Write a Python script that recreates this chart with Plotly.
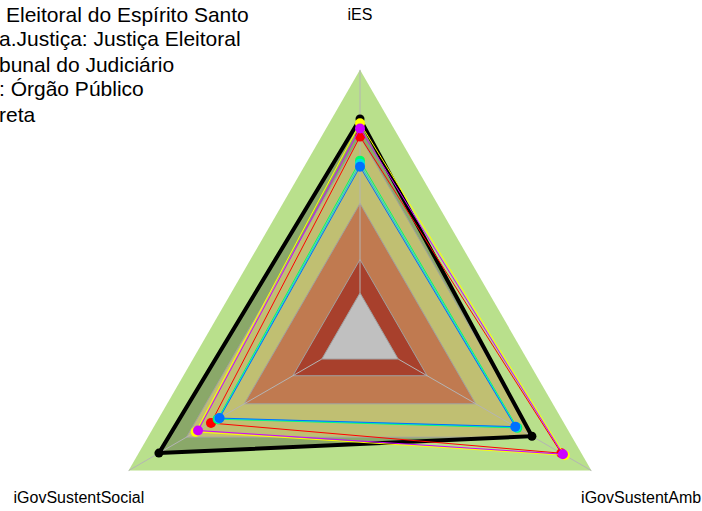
import plotly.graph_objects as go

categories = ["iES", "iGovSustentAmb", "iGovSustentSocial"]

# background bands (outer -> inner): level and colour
band_levels = [1.0, 0.75, 0.5, 0.29, 0.165]
band_colors = ["#B9E08C", "#C0BF72", "#C07A50", "#A8402C", "#C0C0C0"]

# series values in category order (iES, iGovSustentAmb, iGovSustentSocial)
serie_preta = [0.816, 0.743, 0.869]
serie_vermelha = [0.75, 0.87, 0.644]
serie_amarela = [0.80, 0.885, 0.71]
serie_verde = [0.66, 0.68, 0.615]
serie_ciano = [0.648, 0.675, 0.61]
serie_azul = [0.637, 0.671, 0.607]
serie_magenta = [0.78, 0.877, 0.70]

label_radius = [1.2, 1.215, 1.215]

legend_lines = [
    "Eleitoral do Espírito Santo",
    "a.Justiça: Justiça Eleitoral",
    "bunal do Judiciário",
    ": Órgão Público",
    "reta",
]
legend_x = [4, -3, -3, -3, -3]


def closed(vals):
    return list(vals) + [vals[0]]


theta_c = closed(categories)
R_MAX = 1.25

fig = go.Figure()

# outer band
fig.add_trace(go.Scatterpolar(r=[band_levels[0]] * 4, theta=theta_c, mode="lines", fill="toself",
                              fillcolor=band_colors[0], line=dict(width=0, color=band_colors[0]),
                              hoverinfo="skip", showlegend=False))
# black series fill (darkens what lies under it)
fig.add_trace(go.Scatterpolar(r=closed(serie_preta), theta=theta_c, mode="lines", fill="toself",
                              fillcolor="rgba(0,0,0,0.25)", line=dict(width=0),
                              hoverinfo="skip", showlegend=False))
# inner bands
for lev, col in zip(band_levels[1:], band_colors[1:]):
    fig.add_trace(go.Scatterpolar(r=[lev] * 4, theta=theta_c, mode="lines", fill="toself",
                                  fillcolor=col, line=dict(width=1, color="#A0A0A0"),
                                  hoverinfo="skip", showlegend=False))

# spokes
for c in categories:
    fig.add_trace(go.Scatterpolar(r=[band_levels[-1], 1.0], theta=[c, c], mode="lines",
                                  line=dict(width=1, color="#B4B4B4"),
                                  hoverinfo="skip", showlegend=False))

# series
series = [
    (serie_preta, "#000000", 4, 9),
    (serie_vermelha, "#FF0000", 1, 10),
    (serie_amarela, "#FFFF00", 1, 10),
    (serie_verde, "#00FF66", 1, 10),
    (serie_ciano, "#00E0E0", 1, 10),
    (serie_azul, "#0070FF", 1, 10),
    (serie_magenta, "#CC00FF", 1, 10),
]
for vals, col, w, ms in series:
    fig.add_trace(go.Scatterpolar(r=closed(vals), theta=theta_c, mode="lines",
                                  line=dict(width=w, color=col),
                                  hoverinfo="skip", showlegend=False))
    fig.add_trace(go.Scatterpolar(r=vals, theta=categories, mode="markers",
                                  marker=dict(size=ms, color=col),
                                  hoverinfo="skip", showlegend=False, cliponaxis=False))

# axis labels
fig.add_trace(go.Scatterpolar(r=label_radius, theta=categories, mode="text", text=categories,
                              textposition="middle center",
                              textfont=dict(family="Liberation Sans, Arial, sans-serif", size=16, color="black"),
                              hoverinfo="skip", showlegend=False, cliponaxis=False))

W = 702
side = 668
ml, mt = 26, 3
H = mt + side + 3
annotations = []
for i, line in enumerate(legend_lines):
    px = legend_x[i]
    py = 14 + 25 * i
    annotations.append(dict(text=line, xref="paper", yref="paper",
                            x=(px - ml) / side, y=1 - (py - mt) / side,
                            xanchor="left", yanchor="middle", showarrow=False,
                            font=dict(family="Liberation Sans, Arial, sans-serif", size=21, color="black")))

fig.update_layout(
    width=W, height=H,
    margin=dict(l=ml, r=W - ml - side, t=mt, b=H - mt - side, pad=0),
    paper_bgcolor="white",
    showlegend=False,
    annotations=annotations,
    polar=dict(
        domain=dict(x=[0, 1], y=[0, 1]),
        bgcolor="white",
        gridshape="linear",
        radialaxis=dict(range=[0, R_MAX], visible=False, showgrid=False),
        angularaxis=dict(rotation=90, direction="clockwise", showgrid=False, showline=False,
                         showticklabels=False, ticks=""),
    ),
)

fig.write_html("out.html", config={"displayModeBar": False},
               post_script="document.body.style.margin='0';document.body.style.overflow='hidden';")
